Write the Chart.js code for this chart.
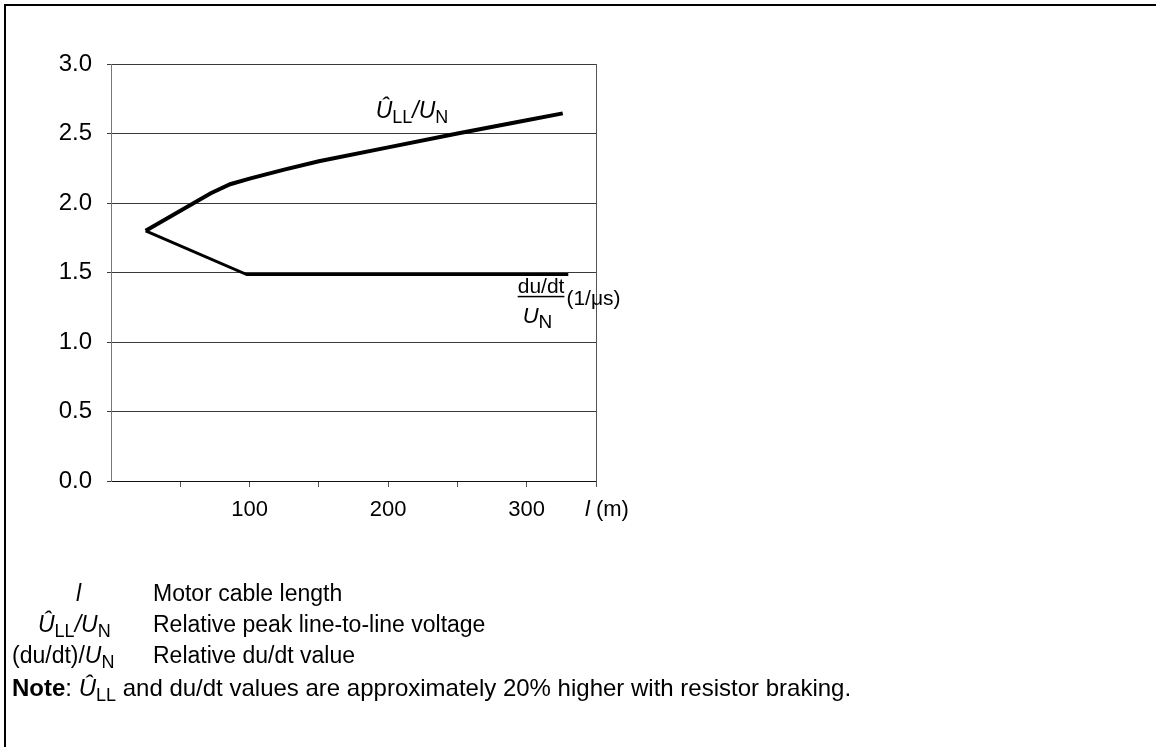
<!DOCTYPE html>
<html>
<head>
<meta charset="utf-8">
<script src="https://cdn.jsdelivr.net/npm/chart.js@4.4.1/dist/chart.umd.min.js"></script>
<style>
  html, body { margin: 0; padding: 0; background: #fff; }
  #wrap { width: 1156px; height: 747px; }
</style>
</head>
<body>
<div id="wrap"><canvas id="cv" width="1156" height="747"></canvas></div>
<script>
// cable length (m) and relative peak line-to-line voltage
const peakLengths = [25, 72, 86, 100, 125, 150, 200, 250, 300, 326];
const peakValues = [1.80, 2.07, 2.135, 2.175, 2.24, 2.30, 2.40, 2.50, 2.595, 2.645];
// cable length (m) and relative du/dt
const dudtLengths = [25, 98, 330];
const dudtValues = [1.80, 1.485, 1.485];
// axis ticks
const xTickLabels = [100, 200, 300];
const yTicks = [0, 0.5, 1.0, 1.5, 2.0, 2.5, 3.0];

const FONT = '"Liberation Sans", Arial, Helvetica, sans-serif';

function toPoints(xs, ys) {
  return xs.map((x, i) => ({ x, y: ys[i] }));
}

// draws a run of text pieces: [text, style]; style may hold i (italic), b (bold), s (subscript)
function drawRich(ctx, parts, x, y, size, subSize) {
  let cx = x;
  ctx.textAlign = 'left';
  ctx.textBaseline = 'alphabetic';
  for (const [t, st] of parts) {
    const sub = st.includes('s');
    const fs = sub ? subSize : size;
    ctx.font = `${st.includes('i') ? 'italic ' : ''}${st.includes('b') ? 'bold ' : ''}${fs}px ${FONT}`;
    ctx.fillText(t, cx, y + (sub ? Math.round(size * 0.22) : 0));
    cx += ctx.measureText(t).width;
  }
  return cx;
}

const annotations = {
  id: 'annotations',
  beforeDraw(chart) {
    const { ctx } = chart;
    ctx.save();
    // page frame (top and left)
    ctx.strokeStyle = '#000';
    ctx.lineWidth = 2;
    ctx.beginPath();
    ctx.moveTo(5, 747);
    ctx.lineTo(5, 5);
    ctx.lineTo(1156, 5);
    ctx.stroke();
    ctx.restore();
  },
  afterDraw(chart) {
    const { ctx, scales } = chart;
    const xs = scales.x, ys = scales.y;
    ctx.save();
    ctx.fillStyle = '#000';

    // curve label: peak voltage
    drawRich(ctx, [['Û', 'i'], ['LL', 's'], ['/', 'i'], ['U', 'i'], ['N', 's']],
      xs.getPixelForValue(191), ys.getPixelForValue(2.61), 23, 18);

    // curve label: du/dt fraction
    const fx = xs.getPixelForValue(293.5);
    const fy = ys.getPixelForValue(1.325);
    ctx.font = `21px ${FONT}`;
    const numW = ctx.measureText('du/dt').width;
    drawRich(ctx, [['du/dt', '']], fx, fy - 4, 21, 16);
    ctx.fillRect(fx, fy - 1, numW, 1.5);
    drawRich(ctx, [['U', 'i'], ['N', 's']], fx + 5, fy + 26, 22, 19);
    drawRich(ctx, [['(1/μs)', '']], fx + numW + 2, fy + 8, 21, 16);

    // x axis title
    drawRich(ctx, [['l', 'i'], [' (m)', '']], xs.getPixelForValue(342), xs.top + 35, 22, 18);

    // key below the chart
    const L = 23, S = 18;
    drawRich(ctx, [['l', 'i']], 76, 601, L, S);
    drawRich(ctx, [['Motor cable length', '']], 153, 601, L, S);
    drawRich(ctx, [['Û', 'i'], ['LL', 's'], ['/', 'i'], ['U', 'i'], ['N', 's']], 38, 632, L, S);
    drawRich(ctx, [['Relative peak line-to-line voltage', '']], 153, 632, L, S);
    drawRich(ctx, [['(du/dt)/', ''], ['U', 'i'], ['N', 's']], 12, 663, L, S);
    drawRich(ctx, [['Relative du/dt value', '']], 153, 663, L, S);
    drawRich(ctx, [['Note', 'b'], [': ', ''], ['Û', 'i'], ['LL', 's'],
      [' and du/dt values are approximately 20% higher with resistor braking.', '']], 12, 696, 24, S);
    ctx.restore();
  }
};

new Chart(document.getElementById('cv'), {
  type: 'scatter',
  data: {
    datasets: [
      {
        data: toPoints(peakLengths, peakValues),
        showLine: true,
        borderColor: '#000',
        borderWidth: 4,
        pointRadius: 0,
        tension: 0
      },
      {
        data: toPoints(dudtLengths, dudtValues),
        showLine: true,
        borderColor: '#000',
        borderWidth: 3,
        pointRadius: 0,
        tension: 0
      }
    ]
  },
  plugins: [annotations],
  options: {
    responsive: false,
    animation: false,
    layout: { padding: { left: 0, top: 64, right: 560, bottom: 226 } },
    plugins: { legend: { display: false }, tooltip: { enabled: false } },
    scales: {
      x: {
        type: 'linear',
        min: 0,
        max: 350,
        afterFit: (s) => { s.height = 40; },
        ticks: {
          stepSize: 50,
          autoSkip: false,
          maxRotation: 0,
          padding: 10,
          color: '#000',
          font: { family: FONT, size: 22 },
          callback: (v) => (xTickLabels.includes(v) ? String(v) : '')
        },
        grid: {
          drawOnChartArea: false,
          tickLength: 6,
          tickColor: (c) => (c.tick && c.tick.value === 0 ? 'rgba(0,0,0,0)' : '#555')
        },
        border: { color: '#111', width: 1 }
      },
      y: {
        type: 'linear',
        min: 0,
        max: 3,
        afterFit: (s) => { s.width = 111; },
        afterBuildTicks: (s) => { s.ticks = yTicks.map((v) => ({ value: v })); },
        ticks: {
          padding: 15,
          color: '#000',
          font: { family: FONT, size: 24 },
          callback: (v) => Number(v).toFixed(1)
        },
        grid: { color: '#3a3a3a', tickLength: 4, tickColor: '#3a3a3a' },
        border: { color: '#777', width: 1 }
      },
      yRight: {
        position: 'right',
        min: 0,
        max: 3,
        afterFit: (s) => { s.width = 0; },
        ticks: { display: false },
        grid: { display: false },
        border: { display: true, color: '#555', width: 1 }
      }
    }
  }
});
</script>
</body>
</html>
